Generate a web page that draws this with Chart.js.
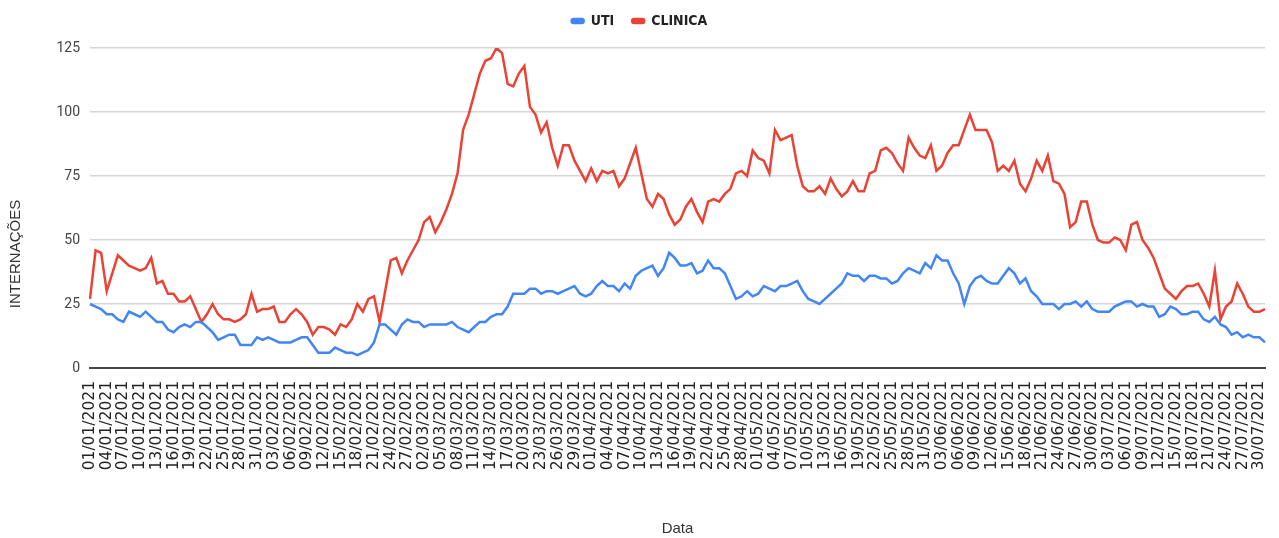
<!DOCTYPE html>
<html>
<head>
<meta charset="utf-8">
<script src="https://cdn.jsdelivr.net/npm/chart.js@4.4.1/dist/chart.umd.min.js"></script>
<style>
  html, body { margin: 0; padding: 0; background: #ffffff; }
  #wrap { width: 1279px; height: 538px; position: relative; }
</style>
</head>
<body>
<div id="wrap"><canvas id="c" width="1279" height="538"></canvas></div>
<script>
// Categories: every day from 01/01/2021 to 31/07/2021
const categories = [];
(function () {
  const d = new Date(Date.UTC(2021, 0, 1));
  const end = new Date(Date.UTC(2021, 6, 31));
  while (d <= end) {
    const dd = String(d.getUTCDate()).padStart(2, '0');
    const mm = String(d.getUTCMonth() + 1).padStart(2, '0');
    categories.push(dd + '/' + mm + '/' + d.getUTCFullYear());
    d.setUTCDate(d.getUTCDate() + 1);
  }
})();

// Series values
const uti = [
  25, 24, 23, 21, 21, 19, 18, 22, 21, 20, 22, 20, 18, 18, 15, 14, 16, 17, 16, 18,
  18, 16, 14, 11, 12, 13, 13, 9, 9, 9, 12, 11, 12, 11, 10, 10, 10,
  11, 12, 12, 9, 6, 6, 6, 8, 7, 6, 6, 5, 6, 7, 10, 17, 17, 15, 13, 17,
  19, 18, 18, 16, 17, 17, 17, 17, 18, 16, 15, 14, 16, 18, 18, 20,
  21, 21, 24, 29, 29, 29, 31, 31, 29, 30, 30, 29, 30, 31, 32, 29, 28, 29, 32, 34,
  32, 32, 30, 33, 31, 36, 38, 39, 40, 36, 39, 45, 43, 40, 40, 41,
  37, 38, 42, 39, 39, 37, 32, 27, 28, 30, 28, 29, 32, 31, 30, 32, 32, 33, 34, 30,
  27, 26, 25, 27, 29, 31, 33, 37, 36, 36, 34, 36, 36, 35, 35, 33,
  34, 37, 39, 38, 37, 41, 39, 44, 42, 42, 37, 33, 25, 32, 35, 36, 34, 33, 33, 36,
  39, 37, 33, 35, 30, 28, 25, 25, 25, 23, 25, 25, 26, 24, 26, 23,
  22, 22, 22, 24, 25, 26, 26, 24, 25, 24, 24, 20, 21, 24, 23, 21, 21, 22, 22, 19,
  18, 20, 17, 16, 13, 14, 12, 13, 12, 12, 10
];
const clinica = [
  27, 46, 45, 30, 37, 44, 42, 40, 39, 38, 39, 43, 33, 34, 29, 29, 26, 26, 28, 23,
  18, 21, 25, 21, 19, 19, 18, 19, 21, 29, 22, 23, 23, 24, 18, 18, 21,
  23, 21, 18, 13, 16, 16, 15, 13, 17, 16, 19, 25, 22, 27, 28, 18, 30, 42, 43, 37,
  42, 46, 50, 57, 59, 53, 57, 62, 68, 76, 93, 99, 107, 115, 120, 121,
  125, 123, 111, 110, 115, 118, 102, 99, 92, 96, 86, 79, 87, 87, 81, 77, 73, 78, 73, 77,
  76, 77, 71, 74, 80, 86, 76, 66, 63, 68, 66, 60, 56, 58, 63, 66,
  61, 57, 65, 66, 65, 68, 70, 76, 77, 75, 85, 82, 81, 76, 93, 89, 90, 91, 79, 71,
  69, 69, 71, 68, 74, 70, 67, 69, 73, 69, 69, 76, 77, 85, 86, 84,
  80, 77, 90, 86, 83, 82, 87, 77, 79, 84, 87, 87, 93, 99, 93, 93, 93, 88, 77, 79,
  77, 81, 72, 69, 74, 81, 77, 83, 73, 72, 68, 55, 57, 65, 65, 56,
  50, 49, 49, 51, 50, 46, 56, 57, 50, 47, 43, 37, 31, 29, 27, 30, 32, 32, 33, 29,
  24, 38, 19, 24, 26, 33, 29, 24, 22, 22, 23
];

// Tick labels
const yTicks = [0, 25, 50, 75, 100, 125];
const xTickLabels = categories.filter((c, i) => i % 3 === 0);
const seriesNames = ['UTI', 'CLINICA'];
const axisTitles = { x: 'Data', y: 'INTERNAÇÕES' };

const layoutPlugin = {
  id: 'layoutTweaks',
  afterInit(chart) {
    const lg = chart.legend;
    if (lg) {
      const origFit = lg.fit;
      lg.fit = function () { origFit.call(this); this.height = 52; };
    }
  },
  afterDraw(chart) {
    const ctx = chart.ctx;
    ctx.save();
    ctx.translate(16, 254);
    ctx.rotate(-Math.PI / 2);
    ctx.font = '15px "Liberation Sans", Arial, sans-serif';
    ctx.fillStyle = '#333333';
    ctx.textAlign = 'center';
    ctx.textBaseline = 'middle';
    ctx.fillText(axisTitles.y, 0, 0);
    ctx.restore();
  }
};

new Chart(document.getElementById('c'), {
  type: 'line',
  data: {
    labels: categories,
    datasets: [
      { label: seriesNames[0], data: uti, borderColor: '#4285F4', backgroundColor: '#4285F4',
        borderWidth: 2.5, pointRadius: 0, pointHoverRadius: 0, tension: 0, fill: false },
      { label: seriesNames[1], data: clinica, borderColor: '#EA4335', backgroundColor: '#EA4335',
        borderWidth: 2.5, pointRadius: 0, pointHoverRadius: 0, tension: 0, fill: false }
    ]
  },
  options: {
    responsive: false,
    animation: false,
    devicePixelRatio: 1,
    layout: { padding: { left: 0, right: 0, top: -4, bottom: 0 } },
    plugins: {
      tooltip: { enabled: false },
      legend: {
        position: 'top',
        align: 'center',
        labels: {
          boxWidth: 12,
          boxHeight: 4,
          useBorderRadius: true,
          borderRadius: 2,
          padding: 18,
          color: '#222222',
          font: { family: '"Liberation Sans Narrow", "DejaVu Sans Condensed", Arial, sans-serif', size: 14, weight: 'bold' }
        }
      }
    },
    scales: {
      x: {
        grid: { display: false, drawTicks: false },
        border: { display: true, color: '#444444', width: 2 },
        ticks: {
          autoSkip: false,
          maxRotation: 90,
          minRotation: 90,
          padding: 13,
          color: '#222222',
          font: { family: '"DejaVu Sans", sans-serif', size: 15.5 },
          callback: function (v, i) { return i % 3 === 0 ? xTickLabels[i / 3] : ''; }
        },
        title: {
          display: true,
          text: axisTitles.x,
          color: '#333333',
          font: { family: '"Liberation Sans", Arial, sans-serif', size: 15 },
          padding: { top: 0, bottom: 0 }
        },
        afterFit: function (scale) {
          scale.height = 170;
          scale.paddingLeft = 0;
          scale.paddingRight = 14;
        }
      },
      y: {
        min: 0,
        max: 125,
        afterBuildTicks: function (scale) { scale.ticks = yTicks.map(v => ({ value: v })); },
        grid: {
          drawTicks: false,
          color: (ctx) => ctx.tick && ctx.tick.value === 0 ? '#444444' : '#d6d6d6',
          lineWidth: (ctx) => ctx.tick && ctx.tick.value === 0 ? 2 : 1.5
        },
        border: { display: false },
        ticks: {
          padding: 10,
          color: '#444444',
          font: { family: 'Roboto, sans-serif', size: 14 }
        },
        afterFit: function (scale) { scale.width = 90; }
      }
    }
  },
  plugins: [layoutPlugin]
});
</script>
</body>
</html>
